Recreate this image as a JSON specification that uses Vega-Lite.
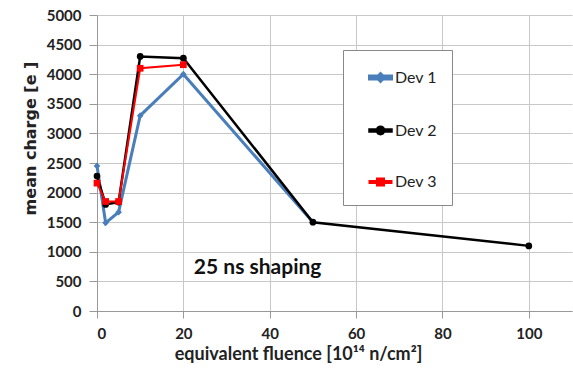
{
  "$schema": "https://vega.github.io/schema/vega-lite/v6.json",
  "width": 475,
  "height": 296,
  "autosize": "none",
  "padding": {"left": 97, "top": 15, "right": 1, "bottom": 61},
  "background": "white",
  "config": {
    "font": "Lato",
    "view": {"stroke": null}
  },
  "datasets": {
    "charge": [
      {"series": "Dev 1", "fluence": 0, "charge": 2450},
      {"series": "Dev 1", "fluence": 2, "charge": 1490},
      {"series": "Dev 1", "fluence": 5, "charge": 1670},
      {"series": "Dev 1", "fluence": 10, "charge": 3300},
      {"series": "Dev 1", "fluence": 20, "charge": 4000},
      {"series": "Dev 1", "fluence": 50, "charge": 1500},
      {"series": "Dev 2", "fluence": 0, "charge": 2280},
      {"series": "Dev 2", "fluence": 2, "charge": 1800},
      {"series": "Dev 2", "fluence": 5, "charge": 1840},
      {"series": "Dev 2", "fluence": 10, "charge": 4300},
      {"series": "Dev 2", "fluence": 20, "charge": 4270},
      {"series": "Dev 2", "fluence": 50, "charge": 1500},
      {"series": "Dev 2", "fluence": 100, "charge": 1100},
      {"series": "Dev 3", "fluence": 0, "charge": 2160},
      {"series": "Dev 3", "fluence": 2, "charge": 1850},
      {"series": "Dev 3", "fluence": 5, "charge": 1850},
      {"series": "Dev 3", "fluence": 10, "charge": 4100},
      {"series": "Dev 3", "fluence": 20, "charge": 4160}
    ],
    "note": [
      {"label": "25 ns shaping", "fluence": 37.2, "charge": 726}
    ]
  },
  "encoding": {
    "x": {
      "field": "fluence",
      "type": "quantitative",
      "scale": {"domain": [0, 110], "nice": false},
      "axis": {
        "values": [0, 20, 40, 60, 80, 100],
        "format": "d",
        "title": "equivalent fluence [10¹⁴ n/cm²]",
        "titleFont": "Lato",
        "titleFontSize": 18,
        "titleFontWeight": "bold",
        "titleColor": "#222222",
        "titlePadding": 4,
        "titleX": 201,
        "labelFont": "Lato",
        "labelFontSize": 15,
        "labelFontWeight": "bold",
        "labelColor": "#222222",
        "labelPadding": 8,
        "tickSize": 7,
        "tickColor": "#999999",
        "domainColor": "#999999",
        "gridColor": "#c8c8c8",
        "grid": true
      }
    },
    "y": {
      "field": "charge",
      "type": "quantitative",
      "scale": {"domain": [0, 5000], "nice": false},
      "axis": {
        "values": [0, 500, 1000, 1500, 2000, 2500, 3000, 3500, 4000, 4500, 5000],
        "format": "d",
        "title": "mean charge [e ]",
        "titleFont": "DejaVu Sans",
        "titleFontSize": 16,
        "titleFontWeight": "bold",
        "titleColor": "#222222",
        "titlePadding": 8,
        "titleY": 123,
        "labelFont": "Lato",
        "labelFontSize": 15,
        "labelFontWeight": "bold",
        "labelColor": "#222222",
        "labelPadding": 8,
        "tickSize": 8,
        "tickColor": "#999999",
        "domainColor": "#999999",
        "gridColor": "#c8c8c8",
        "grid": true
      }
    }
  },
  "layer": [
    {
      "data": {"name": "charge"},
      "mark": {"type": "line"},
      "encoding": {
        "color": {
          "field": "series",
          "type": "nominal",
          "scale": {"domain": ["Dev 1", "Dev 2", "Dev 3"], "range": ["#4a7ebb", "#000000", "#ff0000"]},
          "legend": {
            "title": null,
            "orient": "none",
            "legendX": 246,
            "legendY": 35,
            "fillColor": "white",
            "strokeColor": "#888888",
            "padding": 15,
            "symbolOffset": 10,
            "rowPadding": 30,
            "symbolSize": 484,
            "symbolStrokeWidth": 0,
            "symbolOpacity": 1,
            "labelFont": "Lato",
            "labelFontSize": 16,
            "labelColor": "#222222",
            "labelOffset": 2,
            "labelExpr": "datum.label + '\u00a0\u00a0\u00a0\u00a0\u00a0'"
          }
        },
        "strokeWidth": {
          "field": "series",
          "type": "nominal",
          "scale": {"domain": ["Dev 1", "Dev 2", "Dev 3"], "range": [3, 2, 2]},
          "legend": null
        }
      }
    },
    {
      "data": {"name": "charge"},
      "mark": {"type": "point", "filled": true, "size": 0, "opacity": 1},
      "encoding": {
        "color": {"field": "series", "type": "nominal"},
        "shape": {
          "field": "series",
          "type": "nominal",
          "scale": {
            "domain": ["Dev 1", "Dev 2", "Dev 3"],
            "range": [
              "M-1,-0.14H-0.22L0,-0.36L0.22,-0.14H1V0.14H0.22L0,0.36L-0.22,0.14H-1Z",
              "M-1,-0.09H-0.31A0.32,0.32 0 0 1 0.31,-0.09H1V0.09H0.31A0.32,0.32 0 0 1 -0.31,0.09H-1Z",
              "M-1,-0.09H-0.32V-0.32H0.32V-0.09H1V0.09H0.32V0.32H-0.32V0.09H-1Z"
            ]
          }
        }
      }
    },
    {
      "data": {"name": "charge"},
      "transform": [{"filter": "datum.series === 'Dev 1'"}],
      "mark": {"type": "point", "filled": true, "shape": "diamond", "size": 45, "opacity": 1},
      "encoding": {"color": {"field": "series", "type": "nominal"}}
    },
    {
      "data": {"name": "charge"},
      "transform": [{"filter": "datum.series === 'Dev 2'"}],
      "mark": {"type": "point", "filled": true, "shape": "circle", "size": 45, "opacity": 1},
      "encoding": {"color": {"field": "series", "type": "nominal"}}
    },
    {
      "data": {"name": "charge"},
      "transform": [{"filter": "datum.series === 'Dev 3'"}],
      "mark": {"type": "point", "filled": true, "shape": "square", "size": 45, "opacity": 1},
      "encoding": {"color": {"field": "series", "type": "nominal"}}
    },
    {
      "data": {"name": "note"},
      "mark": {"type": "text", "font": "Lato", "fontSize": 21, "fontWeight": "bold", "align": "center", "baseline": "middle", "color": "#111111"},
      "encoding": {
        "text": {"field": "label", "type": "nominal"}
      }
    }
  ]
}
